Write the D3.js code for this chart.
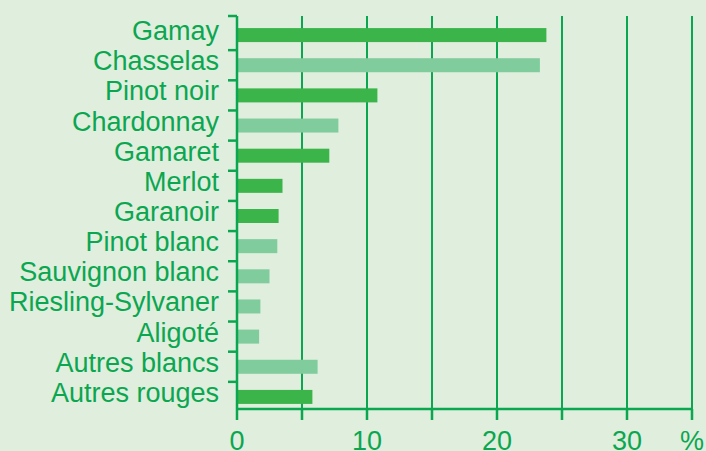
<!DOCTYPE html>
<html>
<head>
<meta charset="utf-8">
<script src="https://cdn.jsdelivr.net/npm/d3@7"></script>
<style>
  body { margin: 0; background: #dfeedd; }
  svg { display: block; font-family: "Liberation Sans", Arial, sans-serif; }
</style>
</head>
<body>
<div id="vis"></div>
<script>
// data
const CEPAGES = ["Gamay", "Chasselas", "Pinot noir", "Chardonnay", "Gamaret", "Merlot", "Garanoir",
  "Pinot blanc", "Sauvignon blanc", "Riesling-Sylvaner", "Aligoté", "Autres blancs", "Autres rouges"];
const PARTS = [23.8, 23.3, 10.8, 7.8, 7.1, 3.5, 3.2, 3.1, 2.5, 1.8, 1.7, 6.2, 5.8];
const TYPES = ["rouge", "blanc", "rouge", "blanc", "rouge", "rouge", "rouge",
  "blanc", "blanc", "blanc", "blanc", "blanc", "rouge"];
const X_TICKS = [0, 10, 20, 30];
const GRID = [5, 10, 15, 20, 25, 30, 35];

const FRAME_WIDTH = 706;
const FRAME_HEIGHT = 451;
const GREEN = "#0ba650";
const COLORS = {rouge: "#3bb54a", blanc: "#80cc9d"};

const FRAME = d3.select("#vis")
  .append("svg")
  .attr("width", FRAME_WIDTH)
  .attr("height", FRAME_HEIGHT);

FRAME.append("rect")
  .attr("width", FRAME_WIDTH)
  .attr("height", FRAME_HEIGHT)
  .attr("fill", "#dfeedd");

const X_SCALE = d3.scaleLinear().domain([0, 35]).range([237, 692]);
const Y_SCALE = d3.scaleBand().domain(CEPAGES).range([20, 412]);
const AXIS_TOP = 16, AXIS_BOTTOM = 409;
const mid = d => Y_SCALE(d) + Y_SCALE.bandwidth() / 2;

// vertical gridlines
FRAME.selectAll(".grid")
  .data(GRID)
  .enter()
  .append("line")
  .attr("x1", d => X_SCALE(d))
  .attr("x2", d => X_SCALE(d))
  .attr("y1", AXIS_TOP)
  .attr("y2", AXIS_BOTTOM)
  .attr("stroke", GREEN)
  .attr("stroke-width", 2);

// bars
const BAR_H = 14;
FRAME.selectAll(".bar")
  .data(CEPAGES)
  .enter()
  .append("rect")
  .attr("x", X_SCALE(0))
  .attr("y", d => mid(d) - BAR_H / 2)
  .attr("width", (d, i) => X_SCALE(PARTS[i]) - X_SCALE(0))
  .attr("height", BAR_H)
  .attr("fill", (d, i) => COLORS[TYPES[i]]);

// left axis line + ticks between categories
FRAME.append("line")
  .attr("x1", X_SCALE(0)).attr("x2", X_SCALE(0))
  .attr("y1", AXIS_TOP).attr("y2", AXIS_BOTTOM + 11)
  .attr("stroke", GREEN).attr("stroke-width", 2.5);

const BOUNDS = [AXIS_TOP].concat(CEPAGES.slice(1).map(d => Y_SCALE(d)));
FRAME.selectAll(".ytick")
  .data(BOUNDS)
  .enter()
  .append("line")
  .attr("x1", X_SCALE(0) - 9).attr("x2", X_SCALE(0))
  .attr("y1", d => d).attr("y2", d => d)
  .attr("stroke", GREEN).attr("stroke-width", 2.5);

// bottom axis line + ticks
FRAME.append("line")
  .attr("x1", X_SCALE(0)).attr("x2", X_SCALE(35))
  .attr("y1", AXIS_BOTTOM).attr("y2", AXIS_BOTTOM)
  .attr("stroke", GREEN).attr("stroke-width", 2.5);

FRAME.selectAll(".xtick")
  .data(GRID)
  .enter()
  .append("line")
  .attr("x1", d => X_SCALE(d)).attr("x2", d => X_SCALE(d))
  .attr("y1", AXIS_BOTTOM).attr("y2", AXIS_BOTTOM + 11)
  .attr("stroke", GREEN).attr("stroke-width", 2.5);

// category labels
FRAME.selectAll(".label")
  .data(CEPAGES)
  .enter()
  .append("text")
  .attr("x", 219)
  .attr("y", d => mid(d) + 5)
  .attr("text-anchor", "end")
  .attr("font-size", "27px")
  .attr("fill", GREEN)
  .text(d => d);

// x tick labels
FRAME.selectAll(".xlabel")
  .data(X_TICKS)
  .enter()
  .append("text")
  .attr("x", d => X_SCALE(d))
  .attr("y", 450)
  .attr("text-anchor", "middle")
  .attr("font-size", "27px")
  .attr("fill", GREEN)
  .text(d => d);

FRAME.append("text")
  .attr("x", X_SCALE(35))
  .attr("y", 450)
  .attr("text-anchor", "middle")
  .attr("font-size", "27px")
  .attr("fill", GREEN)
  .text("%");
</script>
</body>
</html>
